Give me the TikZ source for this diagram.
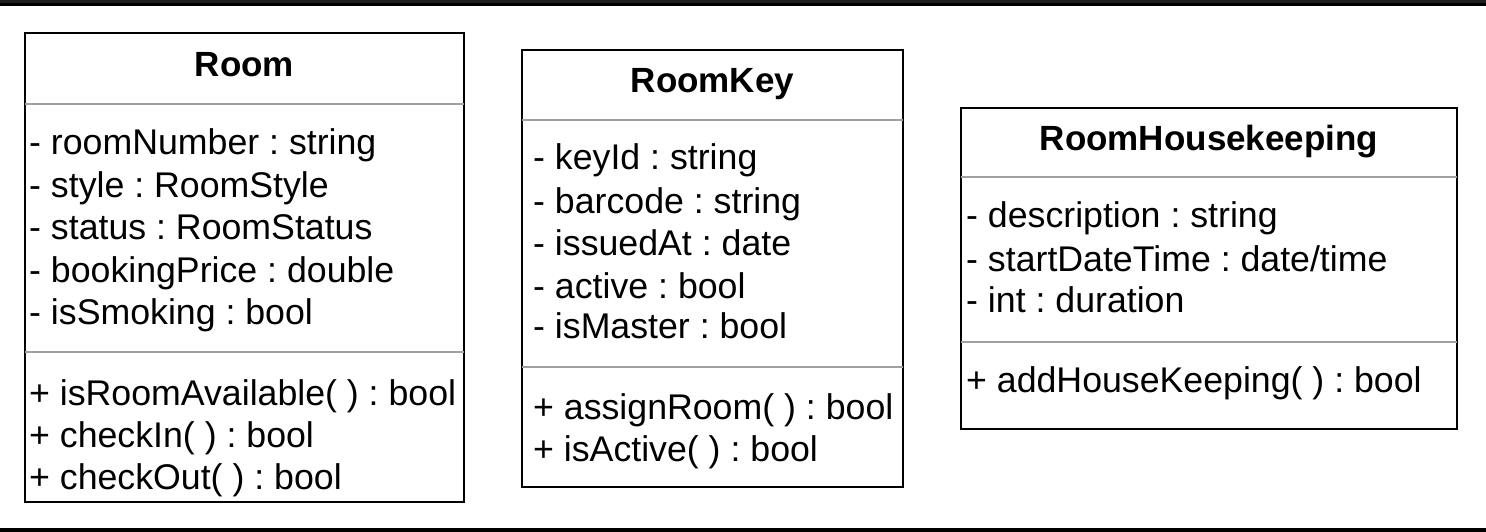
\documentclass[tikz,border=0pt]{standalone}
\usepackage{fontspec}
\setmainfont{Liberation Sans}
\usetikzlibrary{calc}
\definecolor{SepGray}{HTML}{A0A0A0}
\definecolor{BarDark}{HTML}{1E1E1E}
\frenchspacing

\begin{document}
\begin{tikzpicture}[x=1pt,y=-1pt,
  classbox/.style={draw,line width=2pt,inner sep=0pt,outer sep=0pt,anchor=north west},
  ctitle/.style={font=\bfseries\fontsize{35}{42}\selectfont,anchor=base,inner sep=0pt},
  member/.style={font=\fontsize{35.7}{42}\selectfont,anchor=base west,inner sep=0pt},
  sep/.style={draw=SepGray,line width=2pt}]
\useasboundingbox (0,0) rectangle (1486,532);
% window bars
\node[fill=BarDark,inner sep=0pt,minimum width=1486,minimum height=3,anchor=north west] (topbar) at (0,0) {};
\node[fill=black,inner sep=0pt,minimum width=1486,minimum height=3,anchor=north west] (topline) at (0,3) {};
\node[fill=black,inner sep=0pt,minimum width=1486,minimum height=4,anchor=north west] (botline) at (0,528) {};

% Room
\node[classbox,minimum width=439,minimum height=469] (room) at (25,33) {};
\node[ctitle] (roomT) at ($(room.north)+(0,44)$) {Room};
\draw[sep] ($(room.north west)+(0,71)$) -- ($(room.north east)+(0,71)$);
\node[member] (roomA1) at (29,155) {- roomNumber : string};
\node[member] (roomA2) at (29,197) {- style : RoomStyle};
\node[member] (roomA3) at (29,239) {- status : RoomStatus};
\node[member] (roomA4) at (29,282) {- bookingPrice : double};
\node[member] (roomA5) at (29,324) {- isSmoking : bool};
\draw[sep] ($(room.north west)+(0,319)$) -- ($(room.north east)+(0,319)$);
\node[member] (roomM1) at (29,405) {+ isRoomAvailable( ) : bool};
\node[member] (roomM2) at (29,447) {+ checkIn( ) : bool};
\node[member] (roomM3) at (29,489) {+ checkOut( ) : bool};

% RoomKey
\node[classbox,minimum width=381,minimum height=437] (key) at (522,50) {};
\node[ctitle] (keyT) at ($(key.north)+(0,43)$) {RoomKey};
\draw[sep] ($(key.north west)+(0,70)$) -- ($(key.north east)+(0,70)$);
\node[member] (keyA1) at (533,169) {- keyId : string};
\node[member] (keyA2) at (533,213) {- barcode : string};
\node[member] (keyA3) at (533,255) {- issuedAt : date};
\node[member] (keyA4) at (533,298) {- active : bool};
\node[member] (keyA5) at (533,338) {- isMaster : bool};
\draw[sep] ($(key.north west)+(0,317)$) -- ($(key.north east)+(0,317)$);
\node[member] (keyM1) at (533,419) {+ assignRoom( ) : bool};
\node[member] (keyM2) at (533,461) {+ isActive( ) : bool};

% RoomHousekeeping
\node[classbox,minimum width=496,minimum height=321] (hk) at (961,108) {};
\node[ctitle] (hkT) at ($(hk.north)+(0,43)$) {RoomHousekeeping};
\draw[sep] ($(hk.north west)+(0,69)$) -- ($(hk.north east)+(0,69)$);
\node[member] (hkA1) at (966,227) {- description : string};
\node[member] (hkA2) at (966,271) {- startDateTime : date/time};
\node[member] (hkA3) at (966,312) {- int : duration};
\draw[sep] ($(hk.north west)+(0,234)$) -- ($(hk.north east)+(0,234)$);
\node[member] (hkM1) at (966,392) {+ addHouseKeeping( ) : bool};
\end{tikzpicture}
\end{document}
